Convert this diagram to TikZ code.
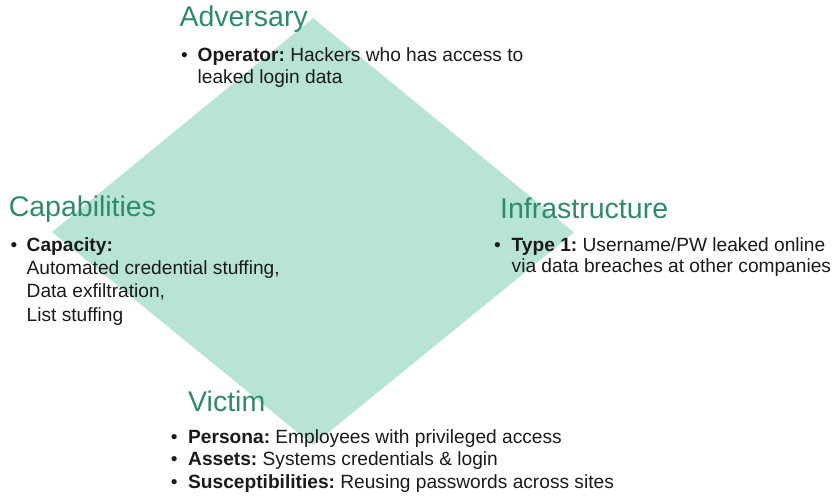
\documentclass[tikz,border=0pt]{standalone}
\usepackage{fontspec}
\setmainfont{Liberation Sans}
\frenchspacing
\definecolor{dfill}{RGB}{184,228,214}
\definecolor{ttl}{RGB}{46,139,106}
\definecolor{txt}{RGB}{26,26,26}
\begin{document}
\frenchspacing
\begin{tikzpicture}[x=1pt,y=-1pt,
  title/.style={anchor=base west,inner sep=0,font=\fontsize{28.5}{30}\selectfont,text=ttl},
  body/.style={anchor=base west,inner sep=0,font=\fontsize{19.15}{22}\selectfont\frenchspacing,text=txt}]
\useasboundingbox (0,0) rectangle (837,498);
\fill[dfill] (313,18) -- (574,232.5) -- (313,445) -- (52,232) -- cycle;
% Adversary
\node[title] (advT) at (179.3,26) {Adversary};
\node[body] (advB) at (181,61.7) {•};
\node[body] (adv1) at (197.5,61.7) {\textbf{Operator:} Hackers who has access to};
\node[body] (adv2) at (197.5,83.3) {leaked login data};
% Capabilities
\node[title] (capT) at (8.6,216.7) {Capabilities};
\node[body] (capB) at (10.5,251) {•};
\node[body] (cap1) at (26.5,251) {\textbf{Capacity:}};
\node[body] (cap2) at (26.5,274.3) {Automated credential stuffing,};
\node[body] (cap3) at (26.5,297.7) {Data exfiltration,};
\node[body] (cap4) at (26.5,321) {List stuffing};
% Infrastructure
\node[title] (infT) at (500,218.3) {Infrastructure};
\node[body] (infB) at (494,251.7) {•};
\node[body] (inf1) at (511.5,251.7) {\textbf{Type 1:} Username/PW leaked online};
\node[body] (inf2) at (511.5,272.7) {via data breaches at other companies};
% Victim
\node[title] (vicT) at (188,411.7) {Victim};
\node[body] (vicB1) at (170.7,443.3) {•};
\node[body] (vic1) at (188,443.3) {\textbf{Persona:} Employees with privileged access};
\node[body] (vicB2) at (170.7,465.7) {•};
\node[body] (vic2) at (188,465.7) {\textbf{Assets:} Systems credentials \& login};
\node[body] (vicB3) at (170.7,488.3) {•};
\node[body] (vic3) at (188,488.3) {\textbf{Susceptibilities:} Reusing passwords across sites};
\end{tikzpicture}
\end{document}
